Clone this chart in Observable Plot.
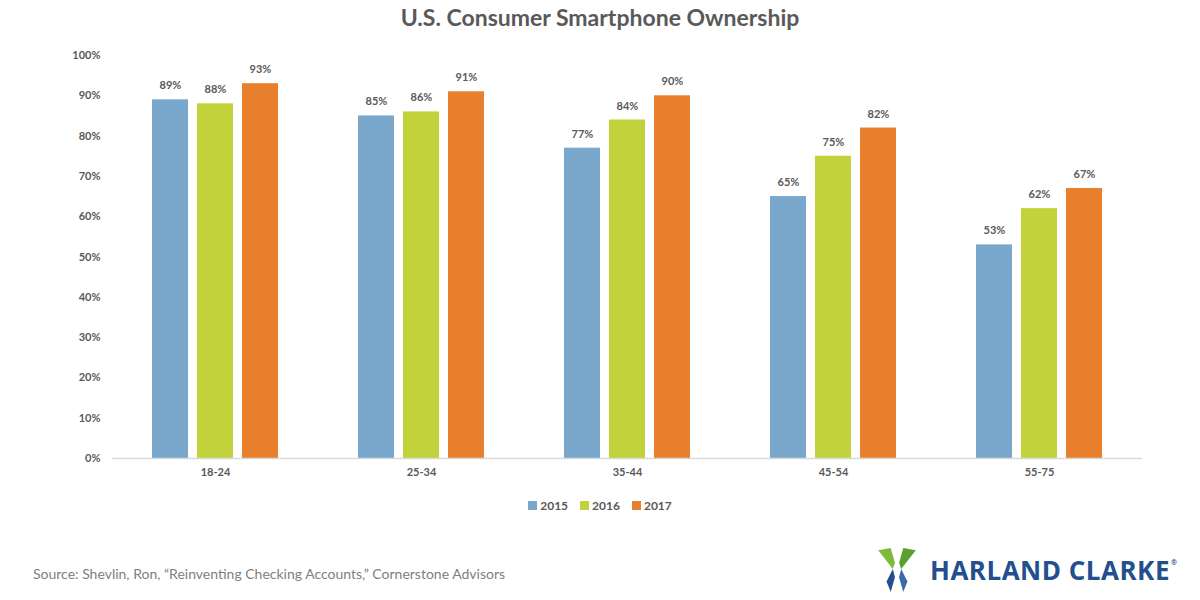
<!DOCTYPE html>
<html>
<head>
<meta charset="utf-8">
<script src="https://cdn.jsdelivr.net/npm/d3@7"></script>
<script src="https://cdn.jsdelivr.net/npm/@observablehq/plot@0.6"></script>
<style>
  html, body { margin: 0; padding: 0; background: #fff; }
  body { width: 1200px; height: 600px; position: relative; overflow: hidden; font-family: Lato, "Open Sans", sans-serif; }
  #title { position: absolute; top: 3px; left: 0; width: 1200px; text-align: center; font-size: 23px; font-weight: bold; color: #595959; }
  #chart { position: absolute; top: 40px; left: 0; }
  #legend { position: absolute; top: 498px; left: 0; width: 1200px; display: flex; justify-content: center; gap: 12px; font-size: 12px; font-weight: bold; color: #595959; }
  #legend .item { display: flex; align-items: center; gap: 3px; }
  #legend .sw { width: 9px; height: 9px; display: inline-block; }
  #source { position: absolute; left: 33px; top: 565px; font-size: 14px; color: #808080; }
  #logo { position: absolute; left: 876px; top: 546px; display: flex; align-items: center; }
  #logo .name { font-family: "Open Sans", Lato, sans-serif; font-weight: bold; font-size: 26px; color: #234f8e; letter-spacing: 0.5px; margin-left: 12px; }
  #logo sup { font-size: 7px; vertical-align: top; position: relative; top: 6px; margin-left: 1px; }
</style>
</head>
<body>
<div id="title">U.S. Consumer Smartphone Ownership</div>
<div id="chart"></div>
<div id="legend"></div>
<div id="source">Source: Shevlin, Ron, “Reinventing Checking Accounts,” Cornerstone Advisors</div>
<div id="logo">
  <svg width="42" height="48" viewBox="0 0 40 46">
    <path d="M2 4 L14 2 L18 16 L16 22 Z" fill="#7dbb3a"/>
    <path d="M38 4 L26 2 L22 16 L24 22 Z" fill="#5aa02c"/>
    <path d="M16 22 L18 30 L14 44 L10 34 Z" fill="#234f8e"/>
    <path d="M24 22 L22 30 L26 44 L30 34 Z" fill="#3a6aa8"/>
  </svg>
  <span class="name">HARLAND CLARKE<sup>®</sup></span>
</div>
<script>
const ageGroups = ["18-24", "25-34", "35-44", "45-54", "55-75"];
const years = ["2015", "2016", "2017"];
const values2015 = [89, 85, 77, 65, 53];
const values2016 = [88, 86, 84, 75, 62];
const values2017 = [93, 91, 90, 82, 67];
const yTicks = [0, 10, 20, 30, 40, 50, 60, 70, 80, 90, 100];
const colors = ["#7aa8cd", "#c2d23a", "#e77f2c"];

const series = [values2015, values2016, values2017];
const data = [];
ageGroups.forEach((g, i) => {
  years.forEach((y, j) => data.push({group: g, year: y, value: series[j][i]}));
});

const chart = Plot.plot({
  width: 1200,
  height: 450,
  marginLeft: 110,
  marginRight: 57,
  marginTop: 15,
  marginBottom: 32,
  style: {fontFamily: "Lato, 'Open Sans', sans-serif", fontSize: "11px", fontWeight: "bold", color: "#595959"},
  fx: {domain: ageGroups, padding: 0, label: null, axis: "bottom", tickSize: 0, tickPadding: 10},
  x: {domain: years, paddingInner: 0.21, paddingOuter: 0.85, axis: null},
  y: {domain: [0, 100], ticks: yTicks, tickFormat: d => d + "%", label: null, tickSize: 0, tickPadding: 12},
  color: {domain: years, range: colors},
  marks: [
    Plot.barY(data, {fx: "group", x: "year", y: "value", fill: "year"}),
    Plot.ruleY([0], {stroke: "#d9d9d9", strokeWidth: 1.5}),
    Plot.text(data, {fx: "group", x: "year", y: "value", text: d => d.value + "%", dy: -14, fill: "#595959", fontWeight: "bold", fontSize: 11})
  ]
});
document.getElementById("chart").appendChild(chart);

const legend = document.getElementById("legend");
years.forEach((y, i) => {
  const it = document.createElement("span");
  it.className = "item";
  it.innerHTML = `<span class="sw" style="background:${colors[i]}"></span>${y}`;
  legend.appendChild(it);
});
</script>
</body>
</html>
